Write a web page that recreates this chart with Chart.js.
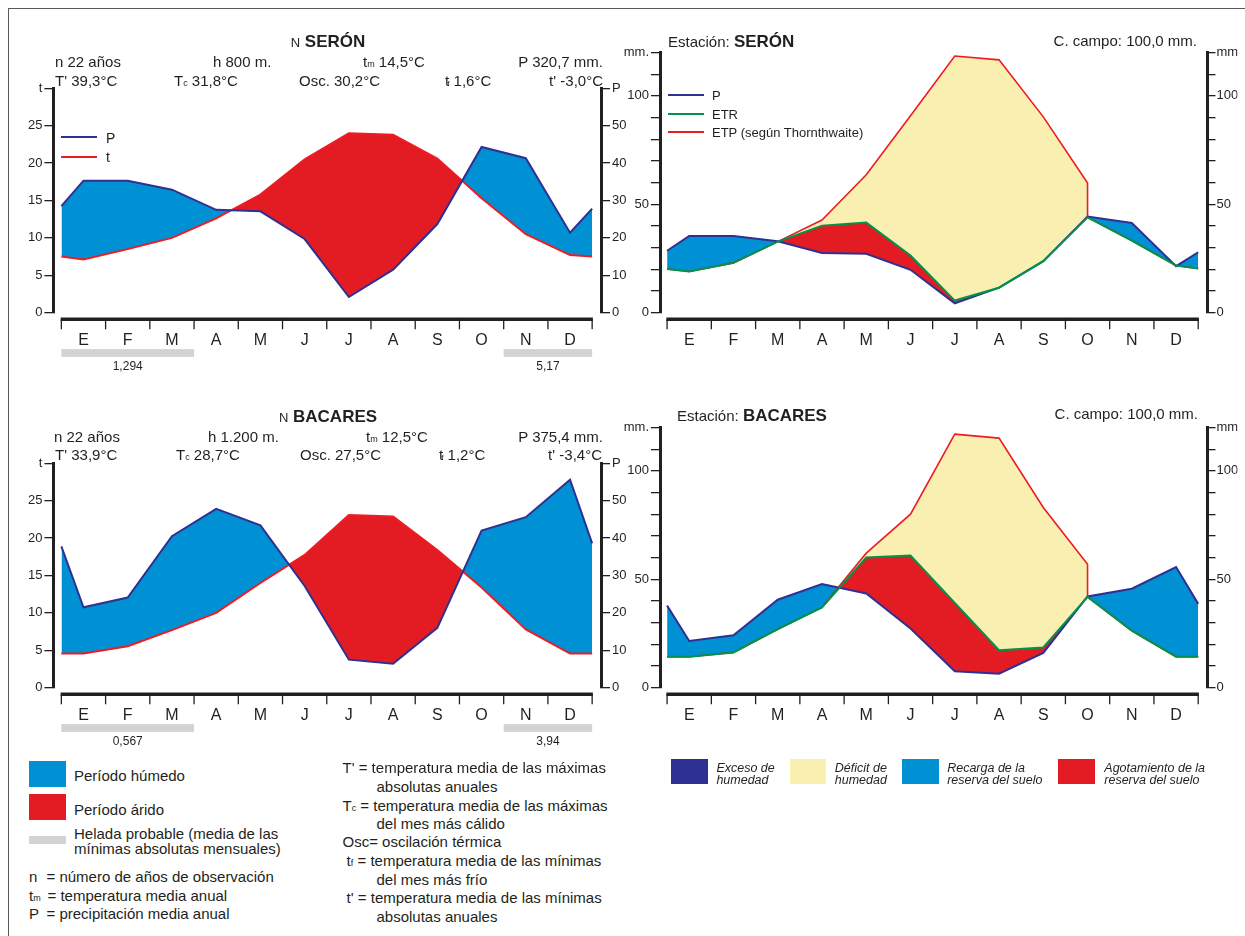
<!DOCTYPE html>
<html><head><meta charset="utf-8">
<script src="https://cdn.jsdelivr.net/npm/chart.js@4.4.1/dist/chart.umd.min.js"></script>
<style>
html,body{margin:0;padding:0;background:#fff;}
#page{position:relative;width:1245px;height:936px;overflow:hidden;font-family:'Liberation Sans',Arial,Helvetica,sans-serif;color:#231f20;}
.t{position:absolute;white-space:nowrap;line-height:1;}
.h{font-size:15px;}
.sb{font-size:9px;}
.sbf{font-size:8px;margin-left:-2px;}
.ttl{font-size:17px;line-height:17px;}
.ttl .n{font-size:13px;}
.lg{font-size:14px;}
.lb{font-size:15px;}
.it{font-size:12.5px;line-height:12px;font-style:italic;}
.sw{position:absolute;}
.ln{position:absolute;height:2px;}
canvas{position:absolute;}
</style></head><body><div id="page">

<div class="sw" style="left:8px;top:8px;width:1237px;height:1.3px;background:#5a5a5a"></div>
<div class="sw" style="left:8px;top:8px;width:1.3px;height:928px;background:#5a5a5a"></div>

<canvas id="c1" width="640" height="380" style="left:0;top:0"></canvas>
<canvas id="c2" width="625" height="380" style="left:620px;top:0"></canvas>
<canvas id="c3" width="640" height="380" style="left:0;top:375px"></canvas>
<canvas id="c4" width="625" height="380" style="left:620px;top:375px"></canvas>

<!-- Serón climogram header -->
<div class="t ttl" style="left:228px;width:200px;text-align:center;top:33px"><span class="n">N</span> <b>SERÓN</b></div>
<div class="t h" style="left:55px;top:54px">n 22 años</div>
<div class="t h" style="left:213px;top:54px">h 800 m.</div>
<div class="t h" style="left:363px;top:54px">t<span class="sb">m</span> 14,5°C</div>
<div class="t h" style="right:642px;top:54px">P 320,7 mm.</div>
<div class="t h" style="left:55px;top:72.5px">T' 39,3°C</div>
<div class="t h" style="left:174px;top:72.5px">T<span class="sb">c</span> 31,8°C</div>
<div class="t h" style="left:299px;top:72.5px">Osc. 30,2°C</div>
<div class="t h" style="left:445px;top:72.5px">t<span class="sbf">f</span> 1,6°C</div>
<div class="t h" style="right:642px;top:72.5px">t' -3,0°C</div>
<div class="ln" style="left:61px;top:135.7px;width:36px;background:#2e3192"></div>
<div class="t lg" style="left:106px;top:131px">P</div>
<div class="ln" style="left:61px;top:155.7px;width:36px;background:#ed1c24"></div>
<div class="t lg" style="left:106px;top:149.7px">t</div>

<!-- Serón balance header -->
<div class="t h" style="left:668px;top:32.5px;line-height:17px">Estación: <b style="font-size:17px">SERÓN</b></div>
<div class="t h" style="right:48px;top:32.5px">C. campo: 100,0 mm.</div>
<div class="ln" style="left:668px;top:94px;width:36px;background:#2e3192"></div>
<div class="t" style="font-size:13px;left:712px;top:88.5px">P</div>
<div class="ln" style="left:668px;top:113px;width:36px;background:#00934a"></div>
<div class="t" style="font-size:13px;left:712px;top:107.5px">ETR</div>
<div class="ln" style="left:668px;top:131px;width:36px;background:#ed1c24"></div>
<div class="t" style="font-size:13px;left:712px;top:125.5px">ETP (según Thornthwaite)</div>

<!-- Bacares climogram header -->
<div class="t ttl" style="left:228px;width:200px;text-align:center;top:407.5px"><span class="n">N</span> <b>BACARES</b></div>
<div class="t h" style="left:54px;top:428.7px">n 22 años</div>
<div class="t h" style="left:208px;top:428.7px">h 1.200 m.</div>
<div class="t h" style="left:366px;top:428.7px">t<span class="sb">m</span> 12,5°C</div>
<div class="t h" style="right:642px;top:428.7px">P 375,4 mm.</div>
<div class="t h" style="left:55px;top:447px">T' 33,9°C</div>
<div class="t h" style="left:176px;top:447px">T<span class="sb">c</span> 28,7°C</div>
<div class="t h" style="left:300px;top:447px">Osc. 27,5°C</div>
<div class="t h" style="left:439px;top:447px">t<span class="sbf">f</span> 1,2°C</div>
<div class="t h" style="right:643px;top:447px">t' -3,4°C</div>

<!-- Bacares balance header -->
<div class="t h" style="left:677px;top:406.5px;line-height:17px">Estación: <b style="font-size:17px">BACARES</b></div>
<div class="t h" style="right:47px;top:405.8px">C. campo: 100,0 mm.</div>

<!-- Bottom-left legend -->
<div class="sw" style="left:29px;top:761px;width:36.5px;height:25.7px;background:#0090d4"></div>
<div class="t lb" style="left:74px;top:768.2px">Período húmedo</div>
<div class="sw" style="left:29px;top:794px;width:36.5px;height:26px;background:#e31b23"></div>
<div class="t lb" style="left:74px;top:801.5px">Período árido</div>
<div class="sw" style="left:29px;top:836px;width:36.5px;height:8px;background:#d1d3d4"></div>
<div class="t lb" style="left:74px;top:825.8px">Helada probable (media de las</div>
<div class="t lb" style="left:74px;top:840.8px">mínimas absolutas mensuales)</div>
<div class="t lb" style="left:29px;top:869.2px"><span style="display:inline-block;width:17.5px">n</span>= número de años de observación</div>
<div class="t lb" style="left:29px;top:887.5px"><span style="display:inline-block;width:18.5px">t<span class="sb">m</span></span>= temperatura media anual</div>
<div class="t lb" style="left:29px;top:905.8px"><span style="display:inline-block;width:17.5px">P</span>= precipitación media anual</div>

<div class="t lb" style="left:342.5px;top:760.2px">T' = temperatura media de las máximas</div>
<div class="t lb" style="left:376.5px;top:779.2px">absolutas anuales</div>
<div class="t lb" style="left:342.5px;top:797.5px">T<span class="sb">c</span> = temperatura media de las máximas</div>
<div class="t lb" style="left:376.5px;top:815.8px">del mes más cálido</div>
<div class="t lb" style="left:342.5px;top:834.2px">Osc= oscilación térmica</div>
<div class="t lb" style="left:346.6px;top:852.5px">t<span class="sb">f</span> = temperatura media de las mínimas</div>
<div class="t lb" style="left:376.5px;top:871.8px">del mes más frío</div>
<div class="t lb" style="left:346.6px;top:890.2px">t' = temperatura media de las mínimas</div>
<div class="t lb" style="left:376.5px;top:909.2px">absolutas anuales</div>

<!-- Bottom-right legend -->
<div class="sw" style="left:671px;top:759px;width:36.7px;height:25.3px;background:#2e3192"></div>
<div class="t it" style="left:716.4px;top:762.3px">Exceso de<br>humedad</div>
<div class="sw" style="left:790.4px;top:759px;width:36.1px;height:25.3px;background:#f9efb0"></div>
<div class="t it" style="left:834.8px;top:762.3px">Déficit de<br>humedad</div>
<div class="sw" style="left:902.4px;top:759px;width:36.8px;height:25.3px;background:#0090d4"></div>
<div class="t it" style="left:947.2px;top:762.3px">Recarga de la<br>reserva del suelo</div>
<div class="sw" style="left:1058px;top:759px;width:36.8px;height:25.3px;background:#e31b23"></div>
<div class="t it" style="left:1104.3px;top:762.3px">Agotamiento de la<br>reserva del suelo</div>

</div>
<script>
const INK = '#231f20';
const FONT = "'Liberation Sans', Arial, Helvetica, sans-serif";
const months = ['E','F','M','A','M','J','J','A','S','O','N','D'];

// ---- Serón ----
const seronP      = [35.3, 35.3, 32.9, 27.5, 27.1, 19.7, 4.2, 11.5, 23.7, 44.3, 41.3, 21.4];
const seronPEdges = [28.5, 27.8];
const seronT      = [7.1, 8.5, 10.0, 12.6, 15.8, 20.5, 24.0, 23.8, 20.6, 15.3, 10.5, 7.7];
const seronTEdges = [7.5, 7.5];
const seronETR    = [18.9, 22.9, 32.7, 40.1, 41.5, 26.3, 5.5, 11.4, 23.7, 43.9, 33.2, 21.7];
const seronETREdges = [20.1, 20.3];
const seronETP    = [18.9, 22.9, 32.7, 42.7, 63.6, 90.8, 118.4, 116.6, 90.3, 59.8, 33.2, 21.7];
const seronETPEdges = [20.1, 20.3];
const seronFrost  = ['1,294', '5,17'];

// ---- Bacares ----
const bacaresP      = [21.5, 24.1, 40.5, 47.8, 43.4, 27.2, 7.5, 6.4, 16.0, 42.0, 45.6, 55.6];
const bacaresPEdges = [37.8, 38.6];
const bacaresT      = [4.56, 5.55, 7.7, 10.0, 14.0, 17.75, 23.1, 22.9, 18.4, 13.4, 7.8, 4.56];
const bacaresTEdges = [4.56, 4.56];
const bacaresETR    = [14.2, 16.2, 26.9, 37.0, 60.0, 60.9, 39.0, 17.2, 18.5, 41.8, 26.2, 14.2];
const bacaresETREdges = [14.2, 14.2];
const bacaresETP    = [14.2, 16.2, 26.9, 37.0, 62.0, 80.0, 116.9, 115.1, 83.1, 56.9, 26.2, 14.2];
const bacaresETPEdges = [14.2, 14.2];
const bacaresFrost  = ['0,567', '3,94'];

const frostMonths = [[0, 3], [10, 12]];   // E–M and N–D
const etpCloseMonth = 9;                   // deficit closes in October

function series(values, edges) {
  const pts = [{x: 0, y: edges[0]}];
  values.forEach((v, i) => pts.push({x: i + 0.5, y: v}));
  pts.push({x: 12, y: edges[1]});
  return pts;
}
function closingSeries(values, etr, edges, closeAt) {
  const pts = [{x: 0, y: edges[0]}];
  values.forEach((v, i) => {
    pts.push({x: i + 0.5, y: v});
    if (i === closeAt) pts.push({x: i + 0.5, y: etr[i]});
  });
  pts.push({x: 12, y: edges[1]});
  return pts;
}

function yAxis(position, max, step, labelEvery, topLabel, width, tickLen, pad) {
  return {
    type: 'linear', position, min: 0, max,
    afterBuildTicks: s => { const t = []; for (let v = 0; v <= max; v += step) t.push({value: v}); s.ticks = t; },
    afterFit: s => { s.width = width; },
    border: {display: true, width: 3, color: INK},
    grid: {drawOnChartArea: false, drawTicks: true, tickLength: tickLen || 9, color: INK, lineWidth: 1.3},
    ticks: {color: INK, font: {size: 13, family: FONT}, padding: pad === undefined ? 2 : pad, autoSkip: false,
      callback: v => v === max ? topLabel : (v % labelEvery === 0 ? String(v) : '')}
  };
}

const monthAxis = {
  id: 'monthAxis',
  afterDraw(chart, args, o) {
    const ctx = chart.ctx, xs = chart.scales.x, ys = chart.scales[o.yId];
    const y0 = ys.getPixelForValue(0);
    const ly = y0 + o.gap;
    ctx.save();
    ctx.strokeStyle = INK;
    ctx.lineWidth = 3.5;
    ctx.beginPath();
    ctx.moveTo(xs.getPixelForValue(0) - 0.7, ly);
    ctx.lineTo(xs.getPixelForValue(12) + 0.7, ly);
    ctx.stroke();
    ctx.lineWidth = 1.3;
    for (let i = 0; i <= 12; i++) {
      const x = xs.getPixelForValue(i);
      ctx.beginPath(); ctx.moveTo(x, ly); ctx.lineTo(x, ly + 10); ctx.stroke();
    }
    ctx.fillStyle = INK;
    ctx.font = '16px ' + FONT;
    ctx.textAlign = 'center';
    ctx.textBaseline = 'alphabetic';
    months.forEach((m, i) => ctx.fillText(m, xs.getPixelForValue(i + 0.5), y0 + o.labelDy + 5.8));
    if (o.frost) {
      frostMonths.forEach(([a, b], k) => {
        const x1 = xs.getPixelForValue(a), x2 = xs.getPixelForValue(b);
        ctx.fillStyle = '#d1d3d4';
        ctx.fillRect(x1, y0 + 36.4, x2 - x1, 7.8);
        ctx.fillStyle = INK;
        ctx.font = '12px ' + FONT;
        ctx.fillText(o.frost[k], (x1 + x2) / 2, y0 + 57.6);
      });
    }
    ctx.restore();
  }
};

const common = {
  responsive: false, animation: false, events: [],
  elements: {point: {radius: 0}, line: {tension: 0, borderJoinStyle: 'miter'}}
};

function climogram(id, P, PE, T, TE, frost) {
  new Chart(document.getElementById(id), {
    type: 'line',
    data: {datasets: [
      {label: 'P', data: series(P, PE), yAxisID: 'yP', borderColor: '#2e3192', borderWidth: 2,
       fill: {target: 1, above: '#0090d4', below: '#e31b23'}},
      {label: 't', data: series(T, TE), yAxisID: 'yT', borderColor: '#ed1c24', borderWidth: 2, fill: false}
    ]},
    options: Object.assign({}, common, {
      layout: {padding: {left: 0, right: 9, top: 88.3, bottom: 67.3}},
      scales: {
        x: {type: 'linear', min: -0.18, max: 12.2, display: false},
        yT: yAxis('left', 30, 5, 5, 't', 53.4),
        yP: yAxis('right', 60, 10, 10, 'P', 30)
      },
      plugins: {legend: {display: false}, tooltip: {enabled: false},
        filler: {drawTime: 'beforeDatasetsDraw'},
        monthAxis: {yId: 'yT', gap: 6.6, labelDy: 26.6, frost}}
    }),
    plugins: [monthAxis]
  });
}

function balance(id, P, PE, ETR, ETRE, ETP, ETPE) {
  new Chart(document.getElementById(id), {
    type: 'line',
    data: {datasets: [
      {label: 'ETR', data: closingSeries(ETR, ETR, ETRE, etpCloseMonth), yAxisID: 'yL', borderColor: '#00934a', borderWidth: 2, fill: false},
      {label: 'P', data: series(P, PE), yAxisID: 'yL', borderColor: '#2e3192', borderWidth: 2,
       fill: {target: 0, above: '#0090d4', below: '#e31b23'}},
      {label: 'ETP', data: closingSeries(ETP, ETR, ETPE, etpCloseMonth), yAxisID: 'yL', borderColor: '#ed1c24', borderWidth: 1.6,
       fill: {target: 0, above: '#f9efb0', below: 'rgba(0,0,0,0)'}}
    ]},
    options: Object.assign({}, common, {
      layout: {padding: {left: 0, right: 7.5, top: 52.5, bottom: 67.5}},
      scales: {
        x: {type: 'linear', min: -0.16, max: 12.21, display: false},
        yL: yAxis('left', 120, 10, 50, 'mm.', 40),
        yR: yAxis('right', 120, 10, 50, 'mm.', 30, 8, 1)
      },
      plugins: {legend: {display: false}, tooltip: {enabled: false},
        filler: {drawTime: 'beforeDatasetsDraw'},
        monthAxis: {yId: 'yL', gap: 6.7, labelDy: 26.8, frost: null}}
    }),
    plugins: [monthAxis]
  });
}

climogram('c1', seronP, seronPEdges, seronT, seronTEdges, seronFrost);
balance('c2', seronP, seronPEdges, seronETR, seronETREdges, seronETP, seronETPEdges);
climogram('c3', bacaresP, bacaresPEdges, bacaresT, bacaresTEdges, bacaresFrost);
balance('c4', bacaresP, bacaresPEdges, bacaresETR, bacaresETREdges, bacaresETP, bacaresETPEdges);
</script>
</body></html>
